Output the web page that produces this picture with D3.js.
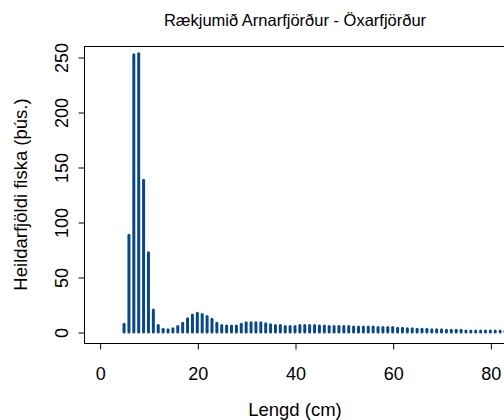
<!DOCTYPE html>
<html>
<head>
<meta charset="utf-8">
<script src="https://cdn.jsdelivr.net/npm/d3@7"></script>
<style>
  html, body { margin: 0; padding: 0; background: #fff; }
  svg { display: block; font-family: "Liberation Sans", Arial, sans-serif; }
</style>
</head>
<body>
<svg id="chart" width="504" height="420"></svg>
<script>
const title = "Rækjumið Arnarfjörður - Öxarfjörður";
const xLabel = "Lengd (cm)";
const yLabel = "Heildarfjöldi fiska (þús.)";
const lengths = d3.range(5, 86);
const counts = [
  7, 88, 252, 253, 138, 72, 20, 6, 2.5, 2,
  3, 5, 8, 12, 15.5, 17, 16, 14, 11.5, 8,
  6, 5.5, 5.5, 5.5, 7, 8.5, 8.5, 8.5, 8.5, 7.5,
  6.5, 6, 6, 5, 5, 5, 6, 6, 6, 6,
  5.5, 5.5, 5, 5, 5, 5, 5, 4.5, 4.5, 4.5,
  4.5, 4.5, 4, 4, 4, 4, 3.5, 3.5, 3, 3,
  2.5, 2.5, 2.5, 2, 2, 2, 1.5, 1.5, 1.5, 1.5,
  1, 1, 1, 1, 1, 1, 0.8, 0.8, 0.8, 0.5, 0.5
];
const xTicks = [0, 20, 40, 60, 80];
const yTicks = [0, 50, 100, 150, 200, 250];

const svg = d3.select("#chart");
const pLeft = 84, pRight = 506, pTop = 46, pBottom = 343;
const x = d3.scaleLinear().domain([-3.2, 83.2]).range([pLeft, pRight]);
const y = d3.scaleLinear().domain([-10, 260]).range([pBottom, pTop]);

const data = lengths.map((l, i) => ({ l, v: counts[i] }));

svg.append("defs").append("clipPath").attr("id", "clip")
  .append("rect").attr("x", pLeft).attr("y", pTop).attr("width", pRight - pLeft).attr("height", pBottom - pTop);

svg.append("g").attr("clip-path", "url(#clip)")
  .selectAll("line").data(data).enter().append("line")
  .attr("x1", d => x(d.l)).attr("x2", d => x(d.l))
  .attr("y1", y(0)).attr("y2", d => y(d.v))
  .attr("stroke", "#08488a").attr("stroke-width", 3).attr("stroke-linecap", "round");

// box
svg.append("rect").attr("x", pLeft + 0.5).attr("y", pTop + 0.5)
  .attr("width", pRight - pLeft).attr("height", pBottom - pTop)
  .attr("fill", "none").attr("stroke", "#000").attr("stroke-width", 1);

// x axis
const gx = svg.append("g").attr("transform", `translate(0.5,${pBottom + 0.5})`)
  .call(d3.axisBottom(x).tickValues(xTicks).tickSize(6).tickFormat(d3.format("d")));
gx.select(".domain").remove();
gx.selectAll("line").attr("stroke", "#000");
gx.selectAll("text").attr("dy", null).attr("y", 36).attr("font-size", 18)
  .attr("font-family", "Liberation Sans, Arial, sans-serif").attr("fill", "#000");

// y axis
const gy = svg.append("g").attr("transform", `translate(${pLeft + 0.5},0.5)`)
  .call(d3.axisLeft(y).tickValues(yTicks).tickSize(6).tickFormat(d3.format("d")));
gy.select(".domain").remove();
gy.selectAll("line").attr("stroke", "#000");
gy.selectAll(".tick text")
  .attr("x", null).attr("dy", null).attr("text-anchor", "middle")
  .attr("transform", "translate(-17,0) rotate(-90)")
  .attr("font-size", 18).attr("font-family", "Liberation Sans, Arial, sans-serif").attr("fill", "#000");

// title
svg.append("text").attr("x", (pLeft + pRight) / 2).attr("y", 26)
  .attr("text-anchor", "middle").attr("font-size", 16.5).text(title);

// x label
svg.append("text").attr("x", (pLeft + pRight) / 2).attr("y", 415.5)
  .attr("text-anchor", "middle").attr("font-size", 18.5).text(xLabel);

// y label
svg.append("text").attr("transform", `translate(27,${(pTop + pBottom) / 2}) rotate(-90)`)
  .attr("text-anchor", "middle").attr("font-size", 18.5).text(yLabel);
</script>
</body>
</html>
